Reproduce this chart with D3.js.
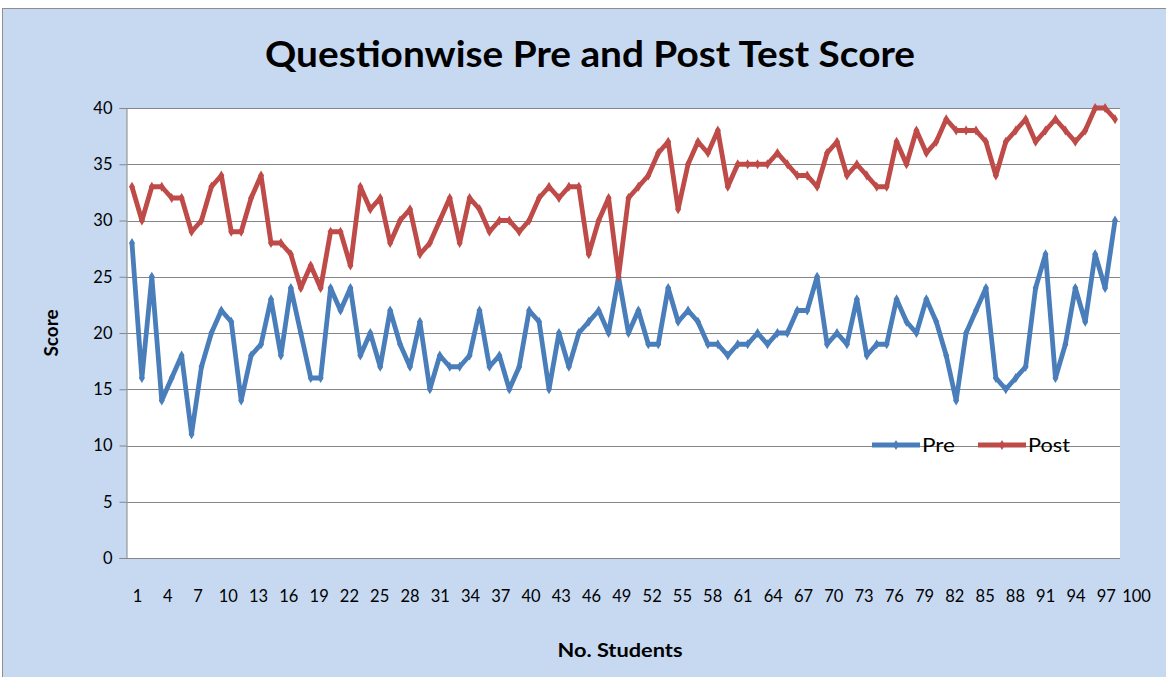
<!DOCTYPE html>
<html><head><meta charset="utf-8">
<script src="https://cdn.jsdelivr.net/npm/d3@7"></script>
<style>
html,body{margin:0;padding:0;background:#fff;}
svg{display:block;font-family:Lato,"Open Sans",sans-serif;}
</style></head>
<body>
<svg id="c" width="1166" height="677"></svg>
<script>
const categories = d3.range(1, 101);
const tickLabels = d3.range(1, 101, 3);
const yTicks = [0, 5, 10, 15, 20, 25, 30, 35, 40];
const pre = [28,16,25,14,16,18,11,17,20,22,21,14,18,19,23,18,24,20,16,16,
24,22,24,18,20,17,22,19,17,21,15,18,17,17,18,22,17,18,15,17,
22,21,15,20,17,20,21,22,20,25,20,22,19,19,24,21,22,21,19,19,
18,19,19,20,19,20,20,22,22,25,19,20,19,23,18,19,19,23,21,20,
23,21,18,14,20,22,24,16,15,16,17,24,27,16,19,24,21,27,24,30];
const post = [33,30,33,33,32,32,29,30,33,34,29,29,32,34,28,28,27,24,26,24,
29,29,26,33,31,32,28,30,31,27,28,30,32,28,32,31,29,30,30,29,
30,32,33,32,33,33,27,30,32,25,32,33,34,36,37,31,35,37,36,38,
33,35,35,35,35,36,35,34,34,33,36,37,34,35,34,33,33,37,35,38,
36,37,39,38,38,38,37,34,37,38,39,37,38,39,38,37,38,40,40,39];
const seriesNames = ["Pre", "Post"];
const colors = ["#4a7ebb", "#be4b48"];

const svg = d3.select("#c");
const L = 127, R = 1120, T = 108, B = 558;

svg.append("rect").attr("x", 2.5).attr("y", 8.5).attr("width", 1180).attr("height", 700)
  .attr("fill", "#c6d9f1").attr("stroke", "#8e8e8e").attr("stroke-width", 1);
svg.append("rect").attr("x", L).attr("y", T).attr("width", R - L).attr("height", B - T).attr("fill", "#fff");

const x = d3.scaleBand().domain(categories).range([L, R]);
const cx = c => x(c) + x.bandwidth() / 2;
const y = d3.scaleLinear().domain([0, 40]).range([B, T]);

svg.append("g").selectAll("line").data(yTicks.filter(d => d > 0)).join("line")
  .attr("x1", L).attr("x2", R).attr("y1", d => Math.round(y(d)) + 0.5).attr("y2", d => Math.round(y(d)) + 0.5)
  .attr("stroke", "#868686").attr("stroke-width", 1.2);

const yAxis = svg.append("g").attr("transform", `translate(${L - 0.5},0)`)
  .call(d3.axisLeft(y).tickValues(yTicks).tickSize(7).tickPadding(7));
yAxis.select(".domain").attr("stroke", "#868686");
yAxis.selectAll(".tick line").attr("stroke", "#868686");
yAxis.selectAll("text").attr("font-size", 16.5).attr("fill", "#000").attr("font-family", "Lato");

svg.append("line").attr("x1", L - 7).attr("x2", R).attr("y1", B + 0.5).attr("y2", B + 0.5)
  .attr("stroke", "#868686");

const xl = d3.scalePoint().domain(categories).range([137, 1136]);
const xAxis = svg.append("g").attr("transform", `translate(0,${B})`)
  .call(d3.axisBottom(xl).tickValues(tickLabels).tickSize(0).tickPadding(32));
xAxis.select(".domain").remove();
xAxis.selectAll("text").attr("font-size", 16.5).attr("fill", "#000").attr("font-family", "Lato");

const line = d3.line().x((d, i) => cx(categories[i])).y(d => y(d));
[pre, post].forEach((s, k) => {
  svg.append("path").datum(s).attr("d", line).attr("fill", "none")
    .attr("stroke", colors[k]).attr("stroke-width", 4.8).attr("stroke-linejoin", "round");
  svg.append("g").selectAll("path").data(s).join("path")
    .attr("transform", (d, i) => `translate(${cx(categories[i])},${y(d)})`)
    .attr("d", d3.symbol(d3.symbolDiamond, 30)).attr("fill", colors[k]);
});

svg.append("text").attr("x", 590).attr("y", 67).attr("text-anchor", "middle")
  .attr("font-size", 37).attr("font-weight", "bold").attr("textLength", 650)
  .attr("lengthAdjust", "spacingAndGlyphs").text("Questionwise Pre and Post Test Score");

svg.append("text").attr("transform", "translate(58,333) rotate(-90)").attr("text-anchor", "middle")
  .attr("font-size", 18).attr("font-weight", "bold").attr("textLength", 47)
  .attr("lengthAdjust", "spacingAndGlyphs").text("Score");
svg.append("text").attr("x", 620).attr("y", 657).attr("text-anchor", "middle")
  .attr("font-size", 19).attr("font-weight", "bold").attr("textLength", 125)
  .attr("lengthAdjust", "spacingAndGlyphs").text("No. Students");

const leg = [{x1: 872, x2: 920, tx: 922, w: 33}, {x1: 978, x2: 1026, tx: 1028, w: 42}];
leg.forEach((p, k) => {
  svg.append("line").attr("x1", p.x1).attr("x2", p.x2).attr("y1", 445).attr("y2", 445)
    .attr("stroke", colors[k]).attr("stroke-width", 4.8);
  svg.append("path").attr("transform", `translate(${(p.x1 + p.x2) / 2},445)`)
    .attr("d", d3.symbol(d3.symbolDiamond, 30)).attr("fill", colors[k]);
  svg.append("text").attr("x", p.tx).attr("y", 452).attr("font-size", 19)
    .attr("textLength", p.w).attr("lengthAdjust", "spacingAndGlyphs").text(seriesNames[k]);
});
</script>
</body></html>
